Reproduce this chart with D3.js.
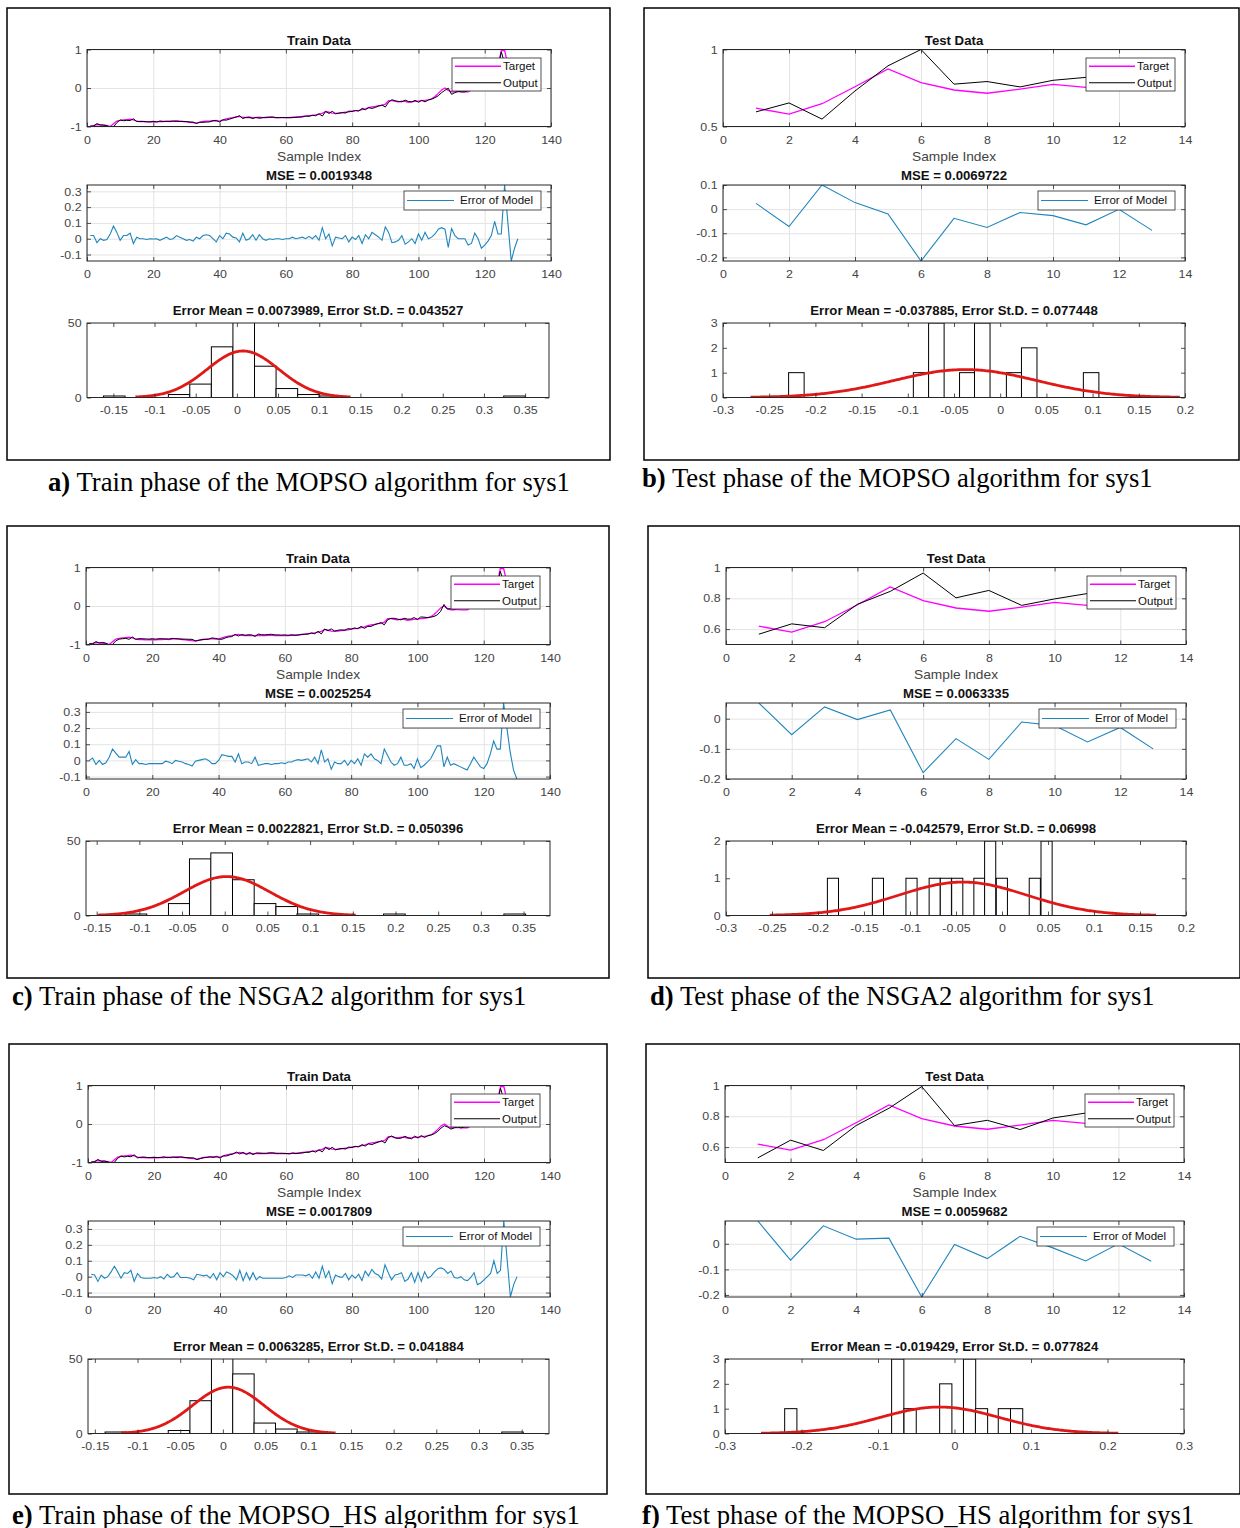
<!DOCTYPE html>
<html>
<head>
<meta charset="utf-8">
<script src="https://cdn.jsdelivr.net/npm/d3@7"></script>
<style>
  body { margin: 0; background: #fff; }
  svg { display: block; }
</style>
</head>
<body>
<svg id="fig" width="1240" height="1528"></svg>
<script>
// ---------------- data ----------------

// shared train target (samples 1..130)
var trainTarget = [
  -0.98,-0.97,-0.95,-0.96,-0.97,-0.98,-1.00,-0.93,-0.86,-0.84,
  -0.83,-0.82,-0.81,-0.83,-0.86,-0.87,-0.87,-0.88,-0.88,-0.87,
  -0.88,-0.87,-0.87,-0.86,-0.87,-0.86,-0.85,-0.86,-0.87,-0.88,
  -0.89,-0.90,-0.91,-0.89,-0.87,-0.86,-0.86,-0.85,-0.86,-0.86,
  -0.83,-0.80,-0.78,-0.77,-0.75,-0.74,-0.76,-0.77,-0.76,-0.77,
  -0.77,-0.76,-0.77,-0.77,-0.76,-0.76,-0.77,-0.77,-0.77,-0.77,
  -0.77,-0.76,-0.76,-0.75,-0.74,-0.73,-0.72,-0.71,-0.70,-0.68,
  -0.66,-0.61,-0.63,-0.65,-0.66,-0.65,-0.64,-0.63,-0.62,-0.60,
  -0.59,-0.58,-0.56,-0.54,-0.51,-0.49,-0.48,-0.46,-0.45,-0.42,
  -0.33,-0.33,-0.35,-0.36,-0.34,-0.35,-0.37,-0.36,-0.35,-0.34,
  -0.33,-0.32,-0.31,-0.28,-0.22,-0.14,-0.05,0.00,-0.06,-0.10,
  -0.10,-0.09,-0.10,-0.10,-0.10,-0.05,0.05,0.10,0.15,0.20,
  0.25,0.30,0.40,0.55,0.97,0.98,0.60,0.40,0.30,0.25
];

// train errors (target - output)
var errA = [
  0.02,0.02,-0.025,0.0,-0.01,-0.005,0.03,0.08,0.04,-0.01,
  0.02,0.02,0.035,-0.03,0.01,0.0,0.0,-0.005,0.0,-0.002,
  0.0,-0.01,0.0,0.01,-0.005,0.0,0.02,0.01,0.0,-0.01,
  -0.005,-0.015,0.01,0.0,0.02,0.025,0.02,0.0,-0.02,0.02,
  0.0,0.035,0.03,0.01,0.005,-0.02,0.035,-0.01,0.0,0.025,
  -0.01,0.025,0.0,-0.01,0.0,-0.005,0.0,0.0,-0.005,0.0,
  0.0,0.01,0.0,0.005,0.01,0.0,0.015,0.0,0.02,-0.01,
  0.07,0.0,0.03,-0.045,0.01,0.005,0.0,0.02,-0.02,0.01,
  -0.005,0.02,-0.03,0.025,0.0,0.04,0.025,0.01,-0.01,0.075,
  0.04,-0.025,-0.02,-0.01,0.02,-0.035,-0.02,0.0,-0.03,0.03,
  -0.01,0.04,0.0,0.01,0.03,0.06,0.07,0.06,-0.055,0.065,
  0.02,0.0,0.0,0.0,-0.04,-0.03,0.035,0.0,-0.06,-0.04,
  -0.015,0.02,0.11,0.03,0.03,0.34,0.1,-0.141,-0.06,0.0
];
var errC = [
  0.0,0.015,-0.025,0.0,-0.025,-0.015,0.02,0.07,0.045,0.02,
  0.02,0.02,0.055,-0.025,0.005,-0.02,-0.02,-0.025,-0.02,-0.02,
  -0.02,-0.02,-0.02,-0.005,-0.01,-0.02,0.0,-0.005,-0.01,-0.02,
  -0.025,-0.035,-0.005,0.0,0.005,0.01,0.0,-0.02,-0.02,0.0,
  0.035,0.03,0.025,0.025,-0.01,0.04,-0.02,-0.01,-0.01,-0.02,
  0.02,-0.03,-0.025,-0.02,-0.02,-0.025,-0.02,-0.02,-0.015,-0.02,
  -0.01,-0.01,0.0,0.005,0.0,0.005,0.01,-0.01,0.02,-0.02,
  0.065,-0.01,0.01,-0.055,-0.01,-0.02,-0.02,0.0,-0.03,0.0,
  -0.02,0.01,-0.03,0.04,0.02,0.04,0.01,0.0,-0.02,0.07,
  0.03,-0.01,-0.03,-0.02,0.02,-0.03,-0.03,-0.02,-0.05,0.01,
  -0.045,-0.03,-0.01,0.01,0.05,0.09,0.09,-0.04,0.02,-0.03,
  -0.02,-0.03,-0.04,-0.05,-0.06,-0.02,0.02,-0.01,-0.04,-0.05,
  -0.02,0.04,0.12,0.07,0.07,0.355,0.2,0.05,-0.06,-0.115
];
var errE = [
  0.015,0.01,-0.03,0.01,-0.01,0.0,0.03,0.065,0.03,-0.01,
  0.025,0.02,0.04,-0.03,0.02,-0.005,-0.01,-0.01,-0.01,-0.005,
  -0.01,0.0,-0.015,0.015,-0.005,0.0,0.025,-0.005,-0.005,-0.005,
  -0.01,-0.02,0.015,0.01,0.005,0.01,-0.01,0.02,-0.02,0.025,
  0.0,0.03,0.02,0.005,-0.02,0.04,-0.025,0.025,-0.02,0.025,
  -0.02,0.0,-0.01,-0.01,-0.01,-0.01,-0.01,-0.01,-0.01,-0.005,
  0.005,-0.005,0.01,0.01,0.01,0.005,0.015,-0.01,0.03,-0.01,
  0.065,-0.005,0.035,-0.045,0.01,0.0,-0.005,0.02,-0.02,0.01,
  -0.01,0.015,-0.025,0.035,0.005,0.045,0.02,0.01,-0.015,0.075,
  0.025,-0.02,0.01,0.015,0.025,-0.03,-0.015,0.025,-0.035,0.025,
  -0.03,0.03,-0.01,0.005,0.03,0.05,0.055,0.045,0.02,0.035,
  -0.005,-0.01,0.0,-0.02,-0.025,-0.005,0.025,-0.05,-0.04,-0.02,
  0.0,0.02,0.1,0.02,0.04,0.35,0.11,-0.128,-0.05,0.0
];

// shared test target (samples 1..13) and test errors
var testTarget = [0.619, 0.581, 0.648, 0.758, 0.874, 0.785, 0.737, 0.716, 0.743, 0.773, 0.754, 0.77, 0.76];
var errB = [0.024, -0.072, 0.1, 0.027, -0.02, -0.215, -0.038, -0.076, -0.014, -0.027, -0.065, -0.001, -0.088];
var errD = [0.052, -0.053, 0.039, -0.003, 0.029, -0.179, -0.066, -0.135, -0.011, -0.023, -0.077, -0.029, -0.1];
var errF = [0.089, -0.064, 0.07, 0.018, 0.022, -0.208, -0.003, -0.058, 0.029, -0.016, -0.067, 0.0, -0.068];

// histogram bars: left edge of each drawn bin, and its count
var histLeftA = [-0.162, -0.0832, -0.0572, -0.031, -0.0048, 0.0214, 0.0476, 0.0738, 0.100, 0.324];
var histCountA = [1, 2, 9, 34, 53, 21, 6, 2, 1, 1];
var histLeftC = [-0.1167, -0.0659, -0.0413, -0.0163, 0.0091, 0.0345, 0.060, 0.0846, 0.186, 0.327];
var histCountC = [1, 8, 38, 42, 24, 8, 6, 1, 1, 1];
var histLeftE = [-0.138, -0.064, -0.0386, -0.0134, 0.0115, 0.0365, 0.0619, 0.0865, 0.3267];
var histCountE = [1, 2, 22, 53, 40, 7, 3, 1, 1];
var histLeftB = [-0.229, -0.094, -0.0775, -0.044, -0.0278, 0.0067, 0.023, 0.090];
var histCountB = [1, 1, 3, 1, 3, 1, 2, 1];
var histLeftD = [-0.1898, -0.1409, -0.1044, -0.0792, -0.0671, -0.0547, -0.0306, -0.0189, -0.0062, 0.0296, 0.0424];
var histCountD = [1, 1, 1, 1, 1, 1, 1, 2, 1, 1, 2];
var histLeftF = [-0.222, -0.0822, -0.066, -0.0194, 0.0117, 0.0273, 0.0572, 0.0732];
var histCountF = [1, 3, 1, 2, 3, 1, 1, 1];

// panel order a..f
var mseValues = [0.0019348, 0.0069722, 0.0025254, 0.0063335, 0.0017809, 0.0059682];
var errMeans = [0.0073989, -0.037885, 0.0022821, -0.042579, 0.0063285, -0.019429];
var errSDs = [0.043527, 0.077448, 0.050396, 0.06998, 0.041884, 0.077824];
var captionLetters = ["a)", "b)", "c)", "d)", "e)", "f)"];
var captionTexts = [
  " Train phase of the MOPSO algorithm for sys1",
  " Test phase of the MOPSO algorithm for sys1",
  " Train phase of the NSGA2 algorithm for sys1",
  " Test phase of the NSGA2 algorithm for sys1",
  " Train phase of the MOPSO_HS algorithm for sys1",
  " Test phase of the MOPSO_HS algorithm for sys1"
];

// tick values
var xTicksTrain = [0, 20, 40, 60, 80, 100, 120, 140];
var xTicksTest = [0, 2, 4, 6, 8, 10, 12, 14];
var yTicksTrainTop = [-1, 0, 1];
var yTicksTestTopB = [0.5, 1];
var yTicksTestTop = [0.6, 0.8, 1];
var yTicksTrainErr = [-0.1, 0, 0.1, 0.2, 0.3];
var yTicksTestErrB = [-0.2, -0.1, 0, 0.1];
var yTicksTestErr = [-0.2, -0.1, 0];
var hTicksTrain = [-0.15, -0.1, -0.05, 0, 0.05, 0.1, 0.15, 0.2, 0.25, 0.3, 0.35];
var hTicksTestBD = [-0.3, -0.25, -0.2, -0.15, -0.1, -0.05, 0, 0.05, 0.1, 0.15, 0.2];
var hTicksTestF = [-0.3, -0.2, -0.1, 0, 0.1, 0.2, 0.3];

// ---------------- layout ----------------
var panels = [
  { kind: "train", frame: [7, 8, 610, 460], oy: 0, ax: [87, 551], hax: [87, 549],
    err: errA, errY: [-0.141, 0.34], errTicks: yTicksTrainErr, topY: [-1, 1], topTicks: yTicksTrainTop,
    hLeft: histLeftA, hCount: histCountA, hWidth: 0.0262, hX: [-0.182, 0.379], hY: [0, 50],
    hXTicks: hTicksTrain, hYTicks: [0, 50], cap: [48, 490.5] },
  { kind: "test", frame: [644, 8, 1239, 460], oy: 0, ax: [723, 1185], hax: [723, 1185],
    err: errB, errY: [-0.215, 0.1], errTicks: yTicksTestErrB, topY: [0.5, 1], topTicks: yTicksTestTopB,
    hLeft: histLeftB, hCount: histCountB, hWidth: 0.0168, hX: [-0.3, 0.2], hY: [0, 3],
    hXTicks: hTicksTestBD, hYTicks: [0, 1, 2, 3], cap: [642, 486.5] },
  { kind: "train", frame: [7, 526, 609, 978], oy: 518, ax: [86, 550], hax: [86, 550],
    err: errC, errY: [-0.115, 0.355], errTicks: yTicksTrainErr, topY: [-1, 1], topTicks: yTicksTrainTop,
    hLeft: histLeftC, hCount: histCountC, hWidth: 0.0254, hX: [-0.1625, 0.381], hY: [0, 50],
    hXTicks: hTicksTrain, hYTicks: [0, 50], cap: [12, 1004.5] },
  { kind: "test", frame: [648, 526, 1240, 978], oy: 518, ax: [726, 1186], hax: [726, 1186],
    err: errD, errY: [-0.2, 0.052], errTicks: yTicksTestErr, topY: [0.5, 1], topTicks: yTicksTestTop,
    hLeft: histLeftD, hCount: histCountD, hWidth: 0.0121, hX: [-0.3, 0.2], hY: [0, 2],
    hXTicks: hTicksTestBD, hYTicks: [0, 1, 2], cap: [650, 1004.5] },
  { kind: "train", frame: [9, 1044, 607, 1494], oy: 1036, ax: [88, 550], hax: [88, 549],
    err: errE, errY: [-0.128, 0.35], errTicks: yTicksTrainErr, topY: [-1, 1], topTicks: yTicksTrainTop,
    hLeft: histLeftE, hCount: histCountE, hWidth: 0.0251, hX: [-0.158, 0.382], hY: [0, 50],
    hXTicks: hTicksTrain, hYTicks: [0, 50], cap: [12, 1523.5] },
  { kind: "test", frame: [646, 1044, 1240, 1494], oy: 1036, ax: [725, 1184], hax: [725, 1184],
    err: errF, errY: [-0.208, 0.089], errTicks: yTicksTestErr, topY: [0.5, 1], topTicks: yTicksTestTop,
    hLeft: histLeftF, hCount: histCountF, hWidth: 0.016, hX: [-0.3, 0.3], hY: [0, 3],
    hXTicks: hTicksTestF, hYTicks: [0, 1, 2, 3], cap: [642, 1523.5] }
];

var FONT = "'Liberation Sans', Arial, Helvetica, sans-serif";
var INK = "#262626";
var svg = d3.select("#fig");
var uid = 0;

function fmt(v) { return String(Math.round(v * 1000) / 1000); }

function clipRect(x0, y0, x1, y1) {
  var id = "clip" + (uid++);
  svg.append("clipPath").attr("id", id).append("rect")
    .attr("x", x0).attr("y", y0).attr("width", x1 - x0).attr("height", y1 - y0);
  return "url(#" + id + ")";
}

function label(g, x, y, str, size, weight, anchor, sx) {
  return g.append("text")
    .attr("transform", "translate(" + x + "," + y + ") scale(" + (sx || 1.1) + ",1)")
    .attr("text-anchor", anchor || "middle")
    .style("font-family", FONT)
    .style("font-size", size + "px")
    .style("font-weight", weight || "normal")
    .attr("fill", "#111")
    .text(str);
}

function styleAxis(sel) {
  sel.select(".domain").remove();
  sel.selectAll("line").attr("stroke", INK).attr("stroke-width", 0.8);
  sel.selectAll("text")
    .attr("transform", "scale(1.08,1)")
    .style("font-family", FONT)
    .style("font-size", "11.5px")
    .attr("fill", "#444");
}

function grid(g, x, y, xTicks, yTicks) {
  var yb = y.range()[0], yt = y.range()[1];
  var x0 = x.range()[0], x1 = x.range()[1];
  g.append("g").attr("transform", "translate(0," + yb + ")")
    .call(d3.axisBottom(x).tickValues(xTicks).tickSize(-(yb - yt)).tickFormat(""))
    .call(function(s) { s.select(".domain").remove(); s.selectAll("line").attr("stroke", "#e3e3e3"); });
  g.append("g").attr("transform", "translate(" + x0 + ",0)")
    .call(d3.axisLeft(y).tickValues(yTicks).tickSize(-(x1 - x0)).tickFormat(""))
    .call(function(s) { s.select(".domain").remove(); s.selectAll("line").attr("stroke", "#e3e3e3"); });
}

function box(g, x, y, xTicks, yTicks, xPad) {
  var yb = y.range()[0], yt = y.range()[1];
  var x0 = x.range()[0], x1 = x.range()[1];
  g.append("g").attr("transform", "translate(0," + yb + ")")
    .call(d3.axisBottom(x).tickValues(xTicks).tickSizeInner(-4).tickSizeOuter(0).tickPadding(xPad).tickFormat(fmt))
    .call(styleAxis);
  g.append("g").attr("transform", "translate(0," + yt + ")")
    .call(d3.axisTop(x).tickValues(xTicks).tickSizeInner(-4).tickSizeOuter(0).tickFormat(""))
    .call(styleAxis);
  g.append("g").attr("transform", "translate(" + x0 + ",0)")
    .call(d3.axisLeft(y).tickValues(yTicks).tickSizeInner(-4).tickSizeOuter(0).tickPadding(5).tickFormat(fmt))
    .call(styleAxis);
  g.append("g").attr("transform", "translate(" + x1 + ",0)")
    .call(d3.axisRight(y).tickValues(yTicks).tickSizeInner(-4).tickSizeOuter(0).tickFormat(""))
    .call(styleAxis);
  g.append("rect").attr("x", x0).attr("y", yt).attr("width", x1 - x0).attr("height", yb - yt)
    .attr("fill", "none").attr("stroke", INK).attr("stroke-width", 1);
}

function legend(g, right, top, w, h, items, lineEnd, textX) {
  var left = right - w;
  g.append("rect").attr("x", left).attr("y", top).attr("width", w).attr("height", h)
    .attr("fill", "#fff").attr("stroke", INK).attr("stroke-width", 0.8);
  items.forEach(function(it, i) {
    var cy = top + (h / items.length) * (i + 0.5);
    g.append("line").attr("x1", left + 3).attr("x2", left + lineEnd).attr("y1", cy).attr("y2", cy)
      .attr("stroke", it.color).attr("stroke-width", it.width);
    label(g, left + textX, cy + 3.9, it.name, 11, "normal", "start", 1.05);
  });
}

function drawPanel(p, i) {
  var g = svg.append("g");
  var dy = p.oy;
  var isTrain = p.kind === "train";
  var target = isTrain ? trainTarget : testTarget;
  var output = target.map(function(t, k) { return t - p.err[k]; });
  var xTicks = isTrain ? xTicksTrain : xTicksTest;
  var xMax = isTrain ? 140 : 14;
  var cx = (p.ax[0] + p.ax[1]) / 2;

  g.append("rect")
    .attr("x", p.frame[0]).attr("y", p.frame[1])
    .attr("width", p.frame[2] - p.frame[0]).attr("height", p.frame[3] - p.frame[1])
    .attr("fill", "none").attr("stroke", "#000").attr("stroke-width", 1.5);

  // --- target / output ---
  var x = d3.scaleLinear().domain([0, xMax]).range(p.ax);
  var yTop = d3.scaleLinear().domain(p.topY).range([126.5 + dy, 49.5 + dy]);
  label(g, cx, 44.8 + dy, isTrain ? "Train Data" : "Test Data", 12, "bold");
  grid(g, x, yTop, xTicks, p.topTicks);
  var clipTop = clipRect(p.ax[0], 49.5 + dy, p.ax[1], 126.5 + dy);
  var lineTop = d3.line().x(function(d, k) { return x(k + 1); }).y(function(d) { return yTop(d); });
  g.append("path").datum(target).attr("d", lineTop).attr("clip-path", clipTop)
    .attr("fill", "none").attr("stroke", "#ff00ff").attr("stroke-width", 1.3);
  g.append("path").datum(output).attr("d", lineTop).attr("clip-path", clipTop)
    .attr("fill", "none").attr("stroke", "#000").attr("stroke-width", 1);
  box(g, x, yTop, xTicks, p.topTicks, 9);
  legend(g, p.ax[1] - 10, 58 + dy, 89, 33, [
    { name: "Target", color: "#ff00ff", width: 1.3 },
    { name: "Output", color: "#000", width: 1 }
  ], 49, 51);
  label(g, cx, 160.5 + dy, "Sample Index", 12.5, "normal", "middle", 1.1).attr("fill", "#444");

  // --- error ---
  var yErr = d3.scaleLinear().domain(p.errY).range([261 + dy, 185 + dy]);
  label(g, cx, 180 + dy, "MSE = " + mseValues[i], 12, "bold");
  grid(g, x, yErr, xTicks, p.errTicks);
  var clipErr = clipRect(p.ax[0], 185 + dy, p.ax[1], 261 + dy);
  var lineErr = d3.line().x(function(d, k) { return x(k + 1); }).y(function(d) { return yErr(d); });
  g.append("path").datum(p.err).attr("d", lineErr).attr("clip-path", clipErr)
    .attr("fill", "none").attr("stroke", "#1f86bd").attr("stroke-width", 1.1);
  box(g, x, yErr, xTicks, p.errTicks, 9);
  legend(g, p.ax[1] - 10, 191 + dy, 137, 19, [
    { name: "Error of Model", color: "#1f86bd", width: 1.1 }
  ], 50, 56);

  // --- histogram with fitted normal ---
  var hx = d3.scaleLinear().domain(p.hX).range(p.hax);
  var hy = d3.scaleLinear().domain(p.hY).range([397.5 + dy, 323 + dy]);
  var hcx = (p.hax[0] + p.hax[1]) / 2;
  label(g, hcx, 315 + dy, "Error Mean = " + errMeans[i] + ", Error St.D. = " + errSDs[i], 12, "bold");
  var clipH = clipRect(p.hax[0], 323 + dy, p.hax[1], 397.5 + dy);
  var bars = d3.zip(p.hLeft, p.hCount);
  g.append("g").attr("clip-path", clipH)
    .selectAll("rect").data(bars).join("rect")
    .attr("x", function(d) { return hx(d[0]); })
    .attr("width", function(d) { return hx(d[0] + p.hWidth) - hx(d[0]); })
    .attr("y", function(d) { return hy(d[1]); })
    .attr("height", function(d) { return hy(0) - hy(d[1]); })
    .attr("fill", "#fff").attr("stroke", "#000").attr("stroke-width", 1);
  var mu = errMeans[i], sd = errSDs[i], n = p.err.length;
  var xs = d3.range(mu - 3 * sd, mu + 3 * sd + 1e-9, sd / 40);
  var fit = d3.line()
    .x(function(v) { return hx(v); })
    .y(function(v) {
      var z = (v - mu) / sd;
      return hy(n * p.hWidth * Math.exp(-0.5 * z * z) / (sd * Math.sqrt(2 * Math.PI)));
    });
  g.append("path").datum(xs).attr("d", fit).attr("clip-path", clipH)
    .attr("fill", "none").attr("stroke", "#e01818").attr("stroke-width", 2.8);
  box(g, hx, hy, p.hXTicks, p.hYTicks, 8);

  // --- caption ---
  var cap = svg.append("text")
    .attr("x", p.cap[0]).attr("y", p.cap[1])
    .style("font-family", "'Liberation Serif', 'Times New Roman', serif")
    .style("font-size", "26.7px").attr("fill", "#000");
  cap.append("tspan").style("font-weight", "bold").text(captionLetters[i]);
  cap.append("tspan").text(captionTexts[i]);
}

panels.forEach(drawPanel);
</script>
</body>
</html>
